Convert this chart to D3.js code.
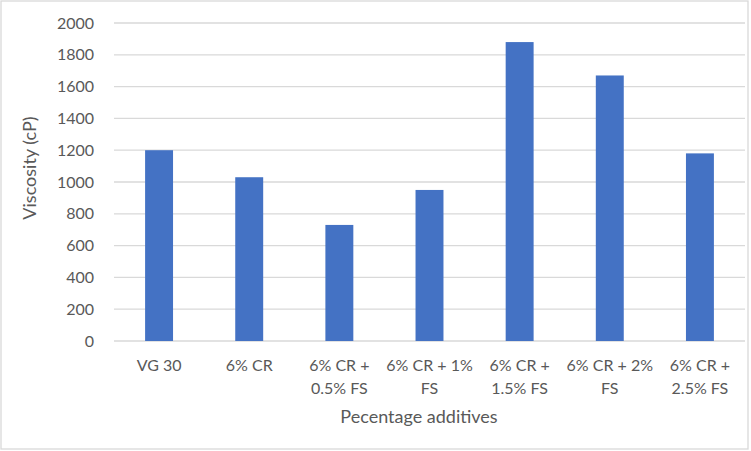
<!DOCTYPE html>
<html>
<head>
<meta charset="utf-8">
<script src="https://cdn.jsdelivr.net/npm/d3@7"></script>
<style>
  html, body { margin: 0; padding: 0; background: #fff; }
  svg { display: block; }
  text { font-family: Lato, "Open Sans", sans-serif; fill: #595959; }
</style>
</head>
<body>
<script>
const categories = ["VG 30", "6% CR", "6% CR + 0.5% FS", "6% CR + 1% FS", "6% CR + 1.5% FS", "6% CR + 2% FS", "6% CR + 2.5% FS"];
const viscosity = [1200, 1030, 730, 950, 1880, 1670, 1180];
const yTicks = [0, 200, 400, 600, 800, 1000, 1200, 1400, 1600, 1800, 2000];
const xTitle = "Pecentage additives";
const yTitle = "Viscosity (cP)";

const W = 751, H = 451;
const plot = { left: 114, right: 745, top: 23, bottom: 341 };

const svg = d3.select("body").append("svg").attr("width", W).attr("height", H);

svg.append("rect")
  .attr("x", 1).attr("y", 1).attr("width", 747).attr("height", 448)
  .attr("fill", "#fff").attr("stroke", "#d9d9d9").attr("stroke-width", 1.3);

const x = d3.scaleBand().domain(categories).range([plot.left, plot.right])
  .paddingInner(0.69).paddingOuter(0.345);
const y = d3.scaleLinear().domain([0, 2000]).range([plot.bottom, plot.top]);

// gridlines
svg.append("g").selectAll("line").data(yTicks).join("line")
  .attr("x1", plot.left).attr("x2", plot.right)
  .attr("y1", d => y(d)).attr("y2", d => y(d))
  .attr("stroke", "#d9d9d9").attr("stroke-width", 1.3);

// y axis labels
const yAxis = svg.append("g").attr("transform", `translate(${plot.left - 20},0)`)
  .call(d3.axisLeft(y).tickValues(yTicks).tickSize(0).tickPadding(0).tickFormat(d3.format("d")));
yAxis.select(".domain").remove();
yAxis.selectAll("text").attr("font-size", 16).attr("font-family", "Lato, sans-serif").attr("fill", "#595959");

// bars
svg.append("g").selectAll("rect").data(categories).join("rect")
  .attr("x", d => x(d))
  .attr("width", x.bandwidth())
  .attr("y", (d, i) => y(viscosity[i]))
  .attr("height", (d, i) => y(0) - y(viscosity[i]))
  .attr("fill", "#4472C4");

// x axis category labels with wrapping
const xAxis = svg.append("g").attr("transform", `translate(0,${plot.bottom})`)
  .call(d3.axisBottom(x).tickSize(0).tickPadding(0));
xAxis.select(".domain").remove();
const maxW = 95;
xAxis.selectAll(".tick text").each(function(d) {
  const t = d3.select(this);
  t.text(null).attr("y", 0).attr("dy", null)
    .attr("font-size", 16).attr("font-family", "Lato, sans-serif").attr("fill", "#595959");
  const words = d.split(" ");
  let lines = [];
  let cur = [];
  const probe = t.append("tspan");
  words.forEach(w => {
    const test = cur.concat([w]).join(" ");
    probe.text(test);
    if (probe.node().getComputedTextLength() > maxW && cur.length) {
      lines.push(cur.join(" "));
      cur = [w];
    } else {
      cur.push(w);
    }
  });
  lines.push(cur.join(" "));
  probe.remove();
  lines.forEach((ln, i) => {
    t.append("tspan").attr("x", 0).attr("y", 30 + i * 23).text(ln);
  });
});

// axis titles
svg.append("text")
  .attr("x", 419).attr("y", 423)
  .attr("text-anchor", "middle").attr("font-size", 18)
  .text(xTitle);

svg.append("text")
  .attr("transform", "translate(36,168) rotate(-90)")
  .attr("text-anchor", "middle").attr("font-size", 18)
  .text(yTitle);
</script>
</body>
</html>
